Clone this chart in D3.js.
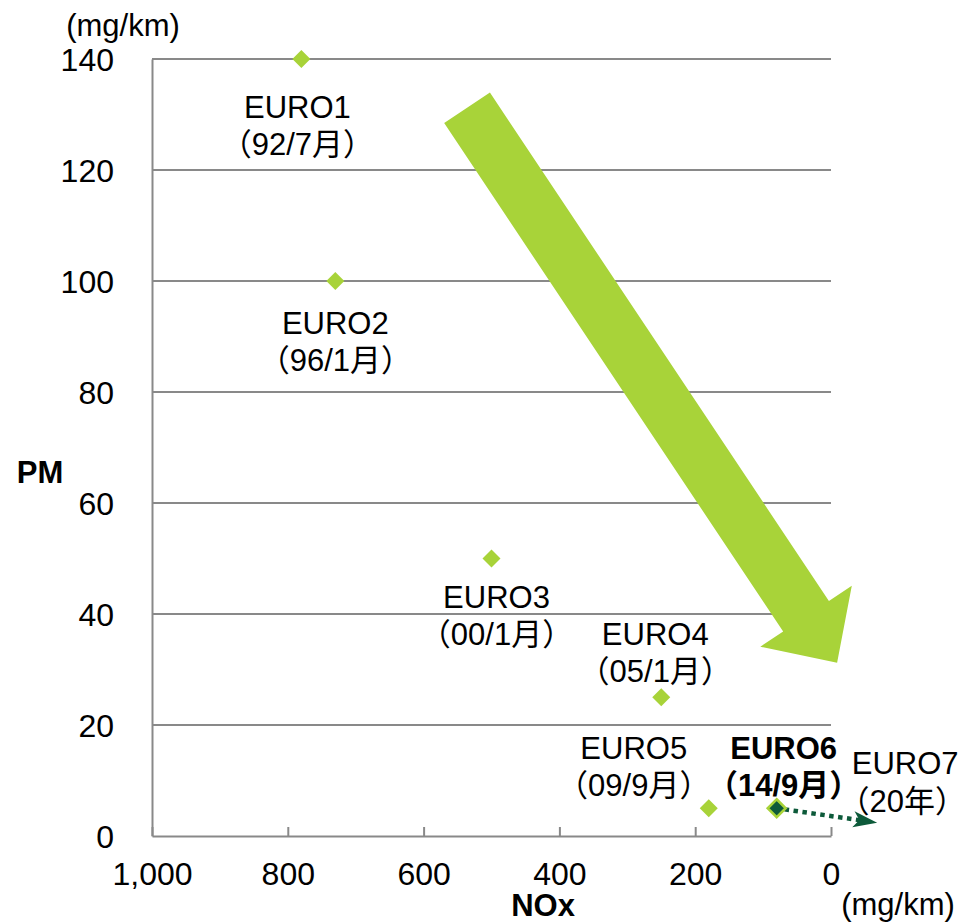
<!DOCTYPE html>
<html>
<head>
<meta charset="utf-8">
<script src="https://cdn.jsdelivr.net/npm/d3@7"></script>
<style>
  html, body { margin: 0; padding: 0; background: #fff; }
  svg { display: block; }
  text { font-family: "Liberation Sans", Arial, "Noto Sans CJK JP", sans-serif; fill: #000; }
</style>
</head>
<body>
<svg id="chart" width="965" height="922"></svg>
<script>
// Euro emission standards: NOx vs PM limits (mg/km)
const standards = ["EURO1", "EURO2", "EURO3", "EURO4", "EURO5", "EURO6"];
const dates     = ["（92/7月）", "（96/1月）", "（00/1月）", "（05/1月）", "（09/9月）", "（14/9月）"];
const noxValues = [780, 730, 500, 250, 180, 80];
const pmValues  = [140, 100, 50, 25, 5, 5];

// Next standard, shown as a label with an arrow only
const nextStandard = "EURO7";
const nextDate = "（20年）";
const nextTarget = [-68, 2.4];          // [NOx, PM] where the dotted arrow ends

const xTicks = [1000, 800, 600, 400, 200, 0];
const yTicks = [0, 20, 40, 60, 80, 100, 120, 140];

// Trend arrow, from [NOx, PM] to [NOx, PM]
const trendFrom = [536, 131.2];
const trendTo   = [-9, 31.2];

const svg = d3.select("#chart");
const plot = { left: 152, right: 831, top: 59, bottom: 836 };

const x = d3.scaleLinear().domain([1000, 0]).range([plot.left, plot.right]);
const y = d3.scaleLinear().domain([0, 140]).range([plot.bottom, plot.top]);

const light = "#a8d339";
const dark = "#0d5a3a";
const grey = "#898989";
const fontSize = 31;

// Gridlines
svg.append("g")
  .selectAll("line")
  .data(yTicks.filter(d => d > 0))
  .join("line")
  .attr("x1", plot.left).attr("x2", plot.right)
  .attr("y1", d => y(d)).attr("y2", d => y(d))
  .attr("stroke", grey).attr("stroke-width", 2);

// X axis (ticks point into the plot)
const xAxis = svg.append("g")
  .attr("transform", `translate(0,${plot.bottom})`)
  .call(d3.axisBottom(x).tickValues(xTicks).tickSizeInner(-9).tickSizeOuter(0)
    .tickFormat(d3.format(",")));
xAxis.select(".domain").attr("stroke", grey).attr("stroke-width", 2);
xAxis.selectAll(".tick line").attr("stroke", grey).attr("stroke-width", 2);
xAxis.selectAll(".tick text")
  .attr("y", 38).attr("dy", "0.35em")
  .style("font-size", (fontSize + 1) + "px").attr("fill", "#000")
  .style("font-family", '"Liberation Sans", Arial, sans-serif');

// Y axis
const yAxis = svg.append("g")
  .attr("transform", `translate(${plot.left},0)`)
  .call(d3.axisLeft(y).tickValues(yTicks).tickSize(0).tickPadding(38));
yAxis.select(".domain").attr("stroke", grey).attr("stroke-width", 2);
yAxis.selectAll(".tick text")
  .attr("dy", "0.35em")
  .style("font-size", (fontSize + 1) + "px").attr("fill", "#000")
  .style("font-family", '"Liberation Sans", Arial, sans-serif');

// Axis titles and units
svg.append("text").attr("x", 40).attr("y", 472).attr("dy", "0.35em")
  .attr("text-anchor", "middle").style("font-size", "31px").style("font-weight", "bold")
  .text("PM");
svg.append("text").attr("x", 543).attr("y", 905).attr("dy", "0.35em")
  .attr("text-anchor", "middle").style("font-size", "31px").style("font-weight", "bold")
  .text("NOx");
svg.append("text").attr("x", 123).attr("y", 25).attr("dy", "0.35em")
  .attr("text-anchor", "middle").style("font-size", fontSize + "px")
  .text("(mg/km)");
svg.append("text").attr("x", 898).attr("y", 904).attr("dy", "0.35em")
  .attr("text-anchor", "middle").style("font-size", fontSize + "px")
  .text("(mg/km)");

// Trend arrow
(function () {
  const x0 = x(trendFrom[0]), y0 = y(trendFrom[1]);
  const x1 = x(trendTo[0]), y1 = y(trendTo[1]);
  const len = Math.hypot(x1 - x0, y1 - y0);
  const ux = (x1 - x0) / len, uy = (y1 - y0) / len;
  const px = -uy, py = ux;
  const shaftW = 27.5, headW = 55, headL = 56;
  const pt = (a, p) => [x0 + ux * a + px * p, y0 + uy * a + py * p];
  const pts = [
    pt(0, -shaftW), pt(len - headL, -shaftW), pt(len - headL, -headW),
    pt(len, 0),
    pt(len - headL, headW), pt(len - headL, shaftW), pt(0, shaftW)
  ];
  svg.append("polygon")
    .attr("points", pts.map(p => p.join(",")).join(" "))
    .attr("fill", light);
})();

// Dotted arrow towards the next standard
const i6 = standards.length - 1;
const ax0 = x(noxValues[i6]), ay0 = y(pmValues[i6]);
const ax1 = x(nextTarget[0]), ay1 = y(nextTarget[1]);
const aang = Math.atan2(ay1 - ay0, ax1 - ax0);
const alen = Math.hypot(ax1 - ax0, ay1 - ay0);
const ag = svg.append("g")
  .attr("transform", `translate(${ax0},${ay0}) rotate(${aang * 180 / Math.PI})`);
ag.append("line")
  .attr("x1", 8).attr("x2", alen - 14).attr("y1", 0).attr("y2", 0)
  .attr("stroke", dark).attr("stroke-width", 4.5).attr("stroke-dasharray", "4.5 4.5");
ag.append("path")
  .attr("d", `M${alen},0 L${alen - 24},-8 L${alen - 18},0 L${alen - 24},8 Z`)
  .attr("fill", dark);

// Markers
const diamond = "M0,-9 L9,0 L0,9 L-9,0 Z";
svg.append("g")
  .selectAll("path")
  .data(standards.map((s, i) => ({ s, i })))
  .join("path")
  .attr("d", diamond)
  .attr("transform", d => `translate(${x(noxValues[d.i])},${y(pmValues[d.i])})`)
  .attr("fill", d => d.i === i6 ? dark : light)
  .attr("stroke", d => d.i === i6 ? light : "none")
  .attr("stroke-width", 2.5);

// Labels: offsets from each marker
const labelOffsets = [
  [-4, 48], [0, 42], [5, 39], [-6, -63], [-75, -60], [7, -60]
];
const lineGap = 37;
const labels = svg.append("g");
standards.forEach((s, i) => {
  const cx = x(noxValues[i]) + labelOffsets[i][0];
  const cy = y(pmValues[i]) + labelOffsets[i][1];
  const bold = i === i6 ? "bold" : "normal";
  labels.append("text").attr("x", cx).attr("y", cy).attr("dy", "0.35em")
    .attr("text-anchor", "middle").style("font-size", fontSize + "px")
    .style("font-weight", bold).text(s);
  labels.append("text").attr("x", cx).attr("y", cy + lineGap).attr("dy", "0.35em")
    .attr("text-anchor", "middle").style("font-size", fontSize + "px")
    .style("font-weight", bold).text(dates[i]);
});
// Next standard label
labels.append("text").attr("x", ax1 + 28).attr("y", ay1 - 60).attr("dy", "0.35em")
  .attr("text-anchor", "middle").style("font-size", fontSize + "px").text(nextStandard);
labels.append("text").attr("x", ax1 + 25).attr("y", ay1 - 22).attr("dy", "0.35em")
  .attr("text-anchor", "middle").style("font-size", fontSize + "px").text(nextDate);
</script>
</body>
</html>
